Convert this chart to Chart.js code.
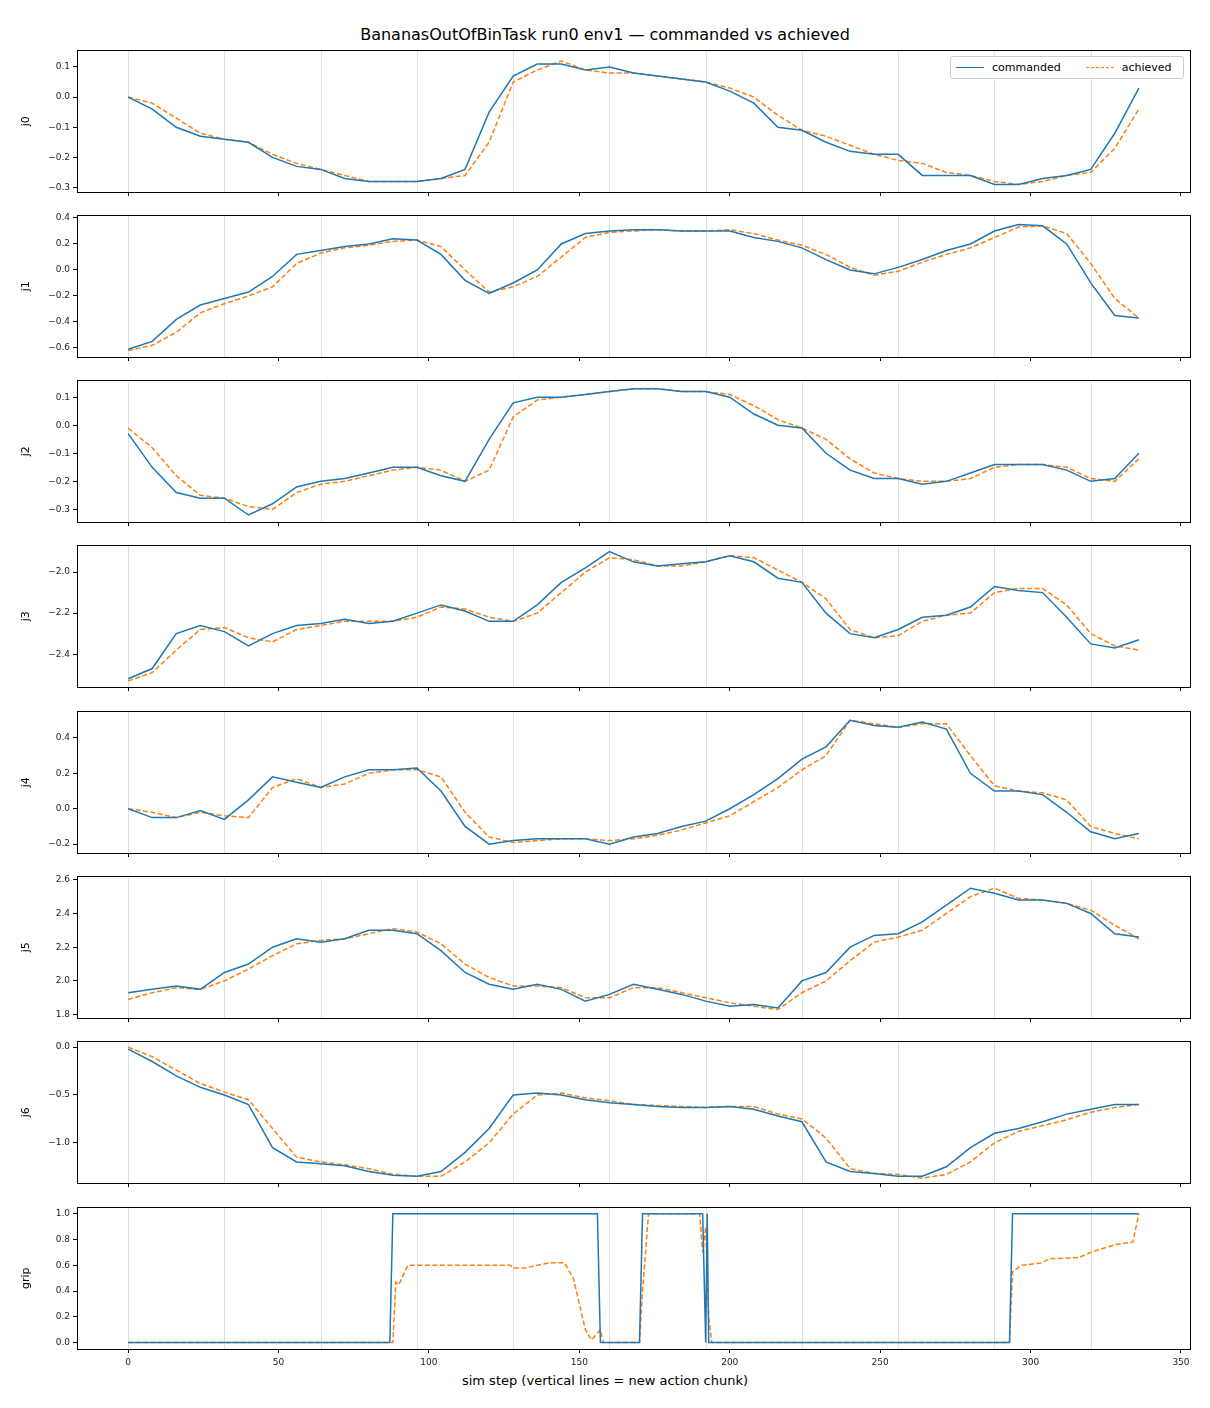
<!DOCTYPE html>
<html><head><meta charset="utf-8">
<script src="https://cdn.jsdelivr.net/npm/chart.js@4/dist/chart.umd.min.js"></script>
<style>
body{margin:0;background:#fff;font-family:"DejaVu Sans",sans-serif;}
#fig{position:relative;width:1210px;height:1408px;}
.pan{position:absolute;left:0;width:1210px;}
#title{position:absolute;top:25px;left:0;width:1210px;text-align:center;font-size:16px;color:#000;}
#xl{position:absolute;top:1373px;left:0;width:1210px;text-align:center;font-size:13px;color:#000;}
#leg{position:absolute;left:950px;top:56px;width:232px;height:21px;border:1px solid #ccc;border-radius:3px;background:#fff;font-size:11px;z-index:5;display:flex;align-items:center;}
.ln{display:inline-block;width:28px;height:0;margin:0 8px 0 5px;vertical-align:middle;}
</style></head>
<body><div id="fig">
<div id="title">BananasOutOfBinTask run0 env1 — commanded vs achieved</div>
<div id="leg"><span class="ln" style="border-top:1.5px solid #1f77b4"></span>commanded<span style="width:20px;display:inline-block"></span><span class="ln" style="border-top:1.5px dashed #ff7f0e"></span>achieved</div>
<div id="xl">sim step (vertical lines = new action chunk)</div>
</div>
<script>
// sampled every 8 sim steps
const steps = [0,8,16,24,32,40,48,56,64,72,80,88,96,104,112,120,128,136,144,152,160,168,176,184,192,200,208,216,224,232,240,248,256,264,272,280,288,296,304,312,320,328,336];

const j0Cmd = [0,-0.04,-0.1,-0.13,-0.14,-0.15,-0.2,-0.23,-0.24,-0.27,-0.28,-0.28,-0.28,-0.27,-0.24,-0.05,0.07,0.11,0.11,0.09,0.1,0.08,0.07,0.06,0.05,0.02,-0.02,-0.1,-0.11,-0.15,-0.18,-0.19,-0.19,-0.26,-0.26,-0.26,-0.29,-0.29,-0.27,-0.26,-0.24,-0.12,0.03];
const j0Ach = [0,-0.02,-0.07,-0.12,-0.14,-0.15,-0.19,-0.22,-0.24,-0.26,-0.28,-0.28,-0.28,-0.27,-0.26,-0.15,0.05,0.09,0.12,0.09,0.08,0.08,0.07,0.06,0.05,0.03,0.0,-0.06,-0.11,-0.13,-0.16,-0.19,-0.21,-0.22,-0.25,-0.26,-0.28,-0.29,-0.28,-0.26,-0.25,-0.17,-0.04];
const j1Cmd = [-0.61,-0.55,-0.38,-0.27,-0.22,-0.17,-0.05,0.12,0.15,0.18,0.2,0.24,0.23,0.12,-0.08,-0.18,-0.1,0.0,0.2,0.28,0.3,0.31,0.31,0.3,0.3,0.3,0.25,0.22,0.17,0.08,0.0,-0.03,0.02,0.08,0.15,0.2,0.3,0.35,0.34,0.2,-0.1,-0.35,-0.37];
const j1Ach = [-0.62,-0.58,-0.48,-0.33,-0.26,-0.2,-0.13,0.05,0.13,0.17,0.19,0.22,0.23,0.18,0.0,-0.17,-0.13,-0.05,0.1,0.25,0.29,0.3,0.31,0.3,0.3,0.31,0.28,0.23,0.19,0.12,0.02,-0.04,-0.01,0.06,0.12,0.17,0.25,0.33,0.34,0.28,0.05,-0.22,-0.37];
const j2Cmd = [-0.03,-0.15,-0.24,-0.26,-0.26,-0.32,-0.28,-0.22,-0.2,-0.19,-0.17,-0.15,-0.15,-0.18,-0.2,-0.05,0.08,0.1,0.1,0.11,0.12,0.13,0.13,0.12,0.12,0.1,0.04,0.0,-0.01,-0.1,-0.16,-0.19,-0.19,-0.21,-0.2,-0.17,-0.14,-0.14,-0.14,-0.16,-0.2,-0.19,-0.1];
const j2Ach = [-0.01,-0.08,-0.18,-0.25,-0.26,-0.29,-0.3,-0.24,-0.21,-0.2,-0.18,-0.16,-0.15,-0.16,-0.2,-0.16,0.03,0.09,0.1,0.11,0.12,0.13,0.13,0.12,0.12,0.11,0.07,0.02,-0.01,-0.05,-0.12,-0.17,-0.19,-0.2,-0.2,-0.19,-0.15,-0.14,-0.14,-0.15,-0.19,-0.2,-0.12];
const j3Cmd = [-2.52,-2.47,-2.3,-2.26,-2.29,-2.36,-2.3,-2.26,-2.25,-2.23,-2.25,-2.24,-2.2,-2.16,-2.19,-2.24,-2.24,-2.16,-2.05,-1.98,-1.9,-1.95,-1.97,-1.96,-1.95,-1.92,-1.95,-2.03,-2.05,-2.2,-2.3,-2.32,-2.28,-2.22,-2.21,-2.17,-2.07,-2.09,-2.1,-2.22,-2.35,-2.37,-2.33];
const j3Ach = [-2.53,-2.49,-2.38,-2.28,-2.27,-2.32,-2.34,-2.28,-2.26,-2.24,-2.24,-2.24,-2.22,-2.17,-2.18,-2.22,-2.24,-2.2,-2.1,-2.0,-1.93,-1.94,-1.97,-1.97,-1.95,-1.92,-1.93,-1.99,-2.05,-2.13,-2.28,-2.32,-2.31,-2.24,-2.21,-2.2,-2.1,-2.08,-2.08,-2.16,-2.3,-2.36,-2.38];
const j4Cmd = [0,-0.05,-0.05,-0.01,-0.06,0.05,0.18,0.15,0.12,0.18,0.22,0.22,0.23,0.1,-0.1,-0.2,-0.18,-0.17,-0.17,-0.17,-0.2,-0.16,-0.14,-0.1,-0.07,0.0,0.08,0.17,0.28,0.35,0.5,0.47,0.46,0.49,0.45,0.2,0.1,0.1,0.08,-0.02,-0.13,-0.17,-0.14];
const j4Ach = [0,-0.02,-0.05,-0.02,-0.04,-0.05,0.12,0.17,0.12,0.14,0.2,0.22,0.22,0.18,-0.02,-0.16,-0.19,-0.18,-0.17,-0.17,-0.18,-0.17,-0.15,-0.12,-0.08,-0.04,0.04,0.12,0.22,0.3,0.5,0.48,0.46,0.48,0.48,0.3,0.13,0.1,0.09,0.05,-0.1,-0.14,-0.17];
const j5Cmd = [1.93,1.95,1.97,1.95,2.05,2.1,2.2,2.25,2.23,2.25,2.3,2.3,2.28,2.18,2.05,1.98,1.95,1.98,1.95,1.88,1.92,1.98,1.95,1.92,1.88,1.85,1.86,1.84,2.0,2.05,2.2,2.27,2.28,2.35,2.45,2.55,2.52,2.48,2.48,2.46,2.4,2.28,2.26];
const j5Ach = [1.89,1.93,1.96,1.95,2.0,2.07,2.15,2.22,2.24,2.25,2.28,2.31,2.29,2.22,2.1,2.02,1.97,1.97,1.96,1.9,1.9,1.96,1.96,1.93,1.9,1.87,1.85,1.83,1.93,2.0,2.12,2.23,2.26,2.3,2.4,2.5,2.55,2.49,2.48,2.46,2.42,2.33,2.25];
const j6Cmd = [-0.02,-0.15,-0.3,-0.42,-0.5,-0.6,-1.05,-1.2,-1.22,-1.24,-1.3,-1.34,-1.35,-1.3,-1.1,-0.85,-0.5,-0.48,-0.5,-0.55,-0.58,-0.6,-0.62,-0.63,-0.63,-0.62,-0.65,-0.72,-0.78,-1.2,-1.3,-1.32,-1.35,-1.35,-1.25,-1.05,-0.9,-0.85,-0.78,-0.7,-0.65,-0.6,-0.6];
const j6Ach = [0.0,-0.1,-0.24,-0.38,-0.47,-0.55,-0.85,-1.15,-1.2,-1.23,-1.27,-1.33,-1.35,-1.35,-1.2,-1.0,-0.7,-0.5,-0.48,-0.53,-0.56,-0.6,-0.61,-0.62,-0.63,-0.62,-0.62,-0.7,-0.75,-0.95,-1.27,-1.32,-1.33,-1.37,-1.33,-1.2,-1.0,-0.88,-0.82,-0.76,-0.68,-0.63,-0.6];

const gripCmdX = [0,87,88,156,157,170,171,191,192,192.5,193,293,294,336];
const gripCmdY = [0,0,1,1,0,0,1,1,0,1,0,0,1,1];
const gripAchX = [0,88,89,90,93,120,127,128,132,140,145,148,152,154,157,158,170,171,173,190,191,192,193,194,293,294,297,304,306,316,320,328,334,336];
const gripAchY = [0,0,0.47,0.45,0.6,0.6,0.6,0.58,0.58,0.62,0.62,0.5,0.1,0.02,0.1,0,0,0.4,1,1,0.7,0.9,0.2,0,0,0.55,0.6,0.62,0.65,0.66,0.7,0.76,0.78,1];

const xTicks = [0,50,100,150,200,250,300,350];
const chunkLines = [0,32,64,96,128,160,192,224,256,288,320];

const panels = [
  {lab:'j0', top:50, cmd:j0Cmd, ach:j0Ach, min:-0.315, max:0.155, ticks:[-0.3,-0.2,-0.1,0.0,0.1]},
  {lab:'j1', top:215, cmd:j1Cmd, ach:j1Ach, min:-0.67, max:0.42, ticks:[-0.6,-0.4,-0.2,0.0,0.2,0.4]},
  {lab:'j2', top:380, cmd:j2Cmd, ach:j2Ach, min:-0.345, max:0.16, ticks:[-0.3,-0.2,-0.1,0.0,0.1]},
  {lab:'j3', top:545, cmd:j3Cmd, ach:j3Ach, min:-2.56, max:-1.87, ticks:[-2.4,-2.2,-2.0]},
  {lab:'j4', top:711, cmd:j4Cmd, ach:j4Ach, min:-0.25, max:0.55, ticks:[-0.2,0.0,0.2,0.4]},
  {lab:'j5', top:876, cmd:j5Cmd, ach:j5Ach, min:1.78, max:2.62, ticks:[1.8,2.0,2.2,2.4,2.6]},
  {lab:'j6', top:1041, cmd:j6Cmd, ach:j6Ach, min:-1.42, max:0.06, ticks:[-1.0,-0.5,0.0]},
  {lab:'grip', top:1207, cmdX:gripCmdX, cmd:gripCmdY, achX:gripAchX, ach:gripAchY, min:-0.05, max:1.05, ticks:[0.0,0.2,0.4,0.6,0.8,1.0], last:true}
];

const frame = {
  id:'frame',
  beforeDatasetsDraw(c){
    const a=c.chartArea, x=c.scales.x, g=c.ctx;
    g.save(); g.strokeStyle='rgba(0,0,0,0.13)'; g.lineWidth=1;
    chunkLines.forEach(v=>{const p=Math.round(x.getPixelForValue(v))+0.5;g.beginPath();g.moveTo(p,a.top);g.lineTo(p,a.bottom);g.stroke();});
    g.restore();
  },
  afterDraw(c){
    const a=c.chartArea, g=c.ctx;
    g.save(); g.strokeStyle='#000'; g.lineWidth=1;
    g.strokeRect(Math.round(a.left)+0.5,Math.round(a.top)+0.5,Math.round(a.right-a.left),Math.round(a.bottom-a.top));
    g.restore();
  }
};

const fmt = v => (Math.abs(v)<1e-9?0:v).toFixed(1).replace('-','\u2212');
const fig = document.getElementById('fig');

panels.forEach(p=>{
  const h = 8+142+(p.last?34:20);
  const d = document.createElement('div'); d.className='pan';
  d.style.top=(p.top-8)+'px'; d.style.height=h+'px';
  const cv = document.createElement('canvas'); d.appendChild(cv); fig.appendChild(d);
  const cx = p.cmdX||steps, ax = p.achX||steps;
  new Chart(cv,{
    type:'line',
    data:{datasets:[
      {data:p.cmd.map((v,i)=>({x:cx[i],y:v})),borderColor:'#1f77b4',borderWidth:1.5,pointRadius:0,tension:0},
      {data:p.ach.map((v,i)=>({x:ax[i],y:v})),borderColor:'#ff7f0e',borderWidth:1.5,borderDash:[5,2.5],pointRadius:0,tension:0}
    ]},
    options:{
      responsive:true,maintainAspectRatio:false,animation:false,
      layout:{padding:{top:8,right:20,left:20,bottom:0}},
      plugins:{legend:{display:false},tooltip:{enabled:false}},
      scales:{
        x:{type:'linear',min:-17,max:353,
          afterBuildTicks:s=>{s.ticks=xTicks.map(v=>({value:v}));},
          afterFit:s=>{s.height=p.last?34:20;},
          grid:{display:true,drawOnChartArea:false,tickLength:4,color:'#000'},border:{display:false},
          ticks:{display:!!p.last,color:'#222',font:{size:9,family:'DejaVu Sans'},maxRotation:0,padding:4}},
        y:{min:p.min,max:p.max,
          afterBuildTicks:s=>{s.ticks=p.ticks.map(v=>({value:v}));},
          afterFit:s=>{s.width=57;},
          grid:{display:true,drawOnChartArea:false,tickLength:4,color:'#000'},border:{display:false},
          title:{display:true,text:p.lab,color:'#000',font:{size:11,family:'DejaVu Sans'},padding:{top:0,bottom:4}},
          ticks:{color:'#222',font:{size:9,family:'DejaVu Sans'},padding:3,callback:v=>fmt(v)}}
      }
    },
    plugins:[frame]
  });
});
</script>
</body></html>
